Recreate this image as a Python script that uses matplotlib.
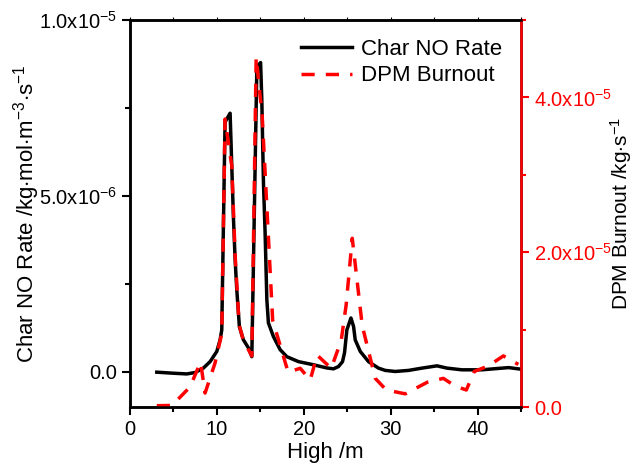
import math
import matplotlib
matplotlib.use("Agg")
import matplotlib.pyplot as plt
from matplotlib.ticker import MultipleLocator, FuncFormatter

plt.rcParams['font.family'] = ['Liberation Sans', 'DejaVu Sans']
plt.rcParams['mathtext.fontset'] = 'custom'
plt.rcParams['mathtext.rm'] = 'Liberation Sans'
plt.rcParams['mathtext.it'] = 'Liberation Sans:italic'
plt.rcParams['mathtext.bf'] = 'Liberation Sans:bold'

# Char NO Rate (left axis)
char_x = [3.08, 4.99, 6.53, 7.49, 8.44, 9.22, 9.99, 10.37, 10.56, 10.94, 11.52, 11.90,
          12.10, 12.29, 12.59, 13.05, 13.63, 14.02, 14.60, 15.03, 15.17, 15.36, 15.55,
          15.75, 15.93, 16.51, 17.28, 18.05, 19.39, 21.12, 22.66, 23.42, 24.0, 24.46,
          24.69, 24.96, 25.43, 25.73, 25.92, 26.5, 27.45, 28.6, 29.38, 30.53, 32.06,
          33.6, 35.33, 36.49, 38.2, 40.5, 42.82, 43.58, 44.93]
char_y = [-0.01, -0.04, -0.06, -0.02, 0.105, 0.29, 0.58, 0.91, 1.19, 7.10, 7.35, 4.40,
          3.18, 2.33, 1.28, 0.91, 0.68, 0.43, 8.67, 8.79, 7.73, 5.37, 3.95,
          2.05, 1.39, 1.00, 0.63, 0.43, 0.29, 0.20, 0.11, 0.085, 0.15, 0.29,
          0.54, 1.19, 1.53, 1.29, 0.91, 0.58, 0.29, 0.105, 0.04, 0.01, 0.04,
          0.105, 0.17, 0.105, 0.057, 0.057, 0.105, 0.12, 0.077]
char_y = [v * 1e-6 for v in char_y]

# DPM Burnout (right axis)
dpm_x = [3.08, 4.84, 6.91, 8.12, 8.64, 9.79, 10.56, 10.94, 11.41, 11.71, 12.10, 12.56,
         13.05, 14.02, 14.52, 15.03, 15.21, 16.42, 18.2, 19.59, 20.74, 21.54, 23.16,
         24.31, 24.88, 25.58, 26.73, 28.23, 29.49, 31.68, 34.22, 36.06, 37.44, 38.71,
         39.63, 41.24, 42.97, 44.70]
dpm_y = [0.017, 0.02, 0.26, 0.58, 0.18, 0.57, 0.95, 3.72, 3.34, 3.12, 1.96, 1.06,
         0.86, 0.66, 4.52, 3.96, 3.77, 1.12, 0.45, 0.50, 0.35, 0.67, 0.50,
         0.86, 1.32, 2.18, 1.05, 0.37, 0.22, 0.17, 0.32, 0.37, 0.27, 0.22,
         0.46, 0.53, 0.66, 0.55]
dpm_y = [v * 1e-5 for v in dpm_y]

left_ticks = [0.0, 5e-6, 1e-5]
right_ticks = [0.0, 2e-5, 4e-5]
x_ticks = [0, 10, 20, 30, 40]


def sci_fmt(v, pos=None):
    if v == 0:
        return "0.0"
    e = int(math.floor(math.log10(abs(v)) + 1e-9))
    m = v / 10 ** e
    return r"%.1fx10$^{%d}$" % (m, e)


fig = plt.figure(figsize=(6.33, 4.66), dpi=100)
ax = fig.add_axes([0.2054, 0.1266, 0.6176, 0.8305])
ax2 = ax.twinx()

l1, = ax.plot(char_x, char_y, color='black', lw=2.5, label='Char NO Rate', zorder=3)
l2, = ax2.plot(dpm_x, dpm_y, color='red', lw=2.5, ls=(0, (3.8, 3.2)), label='DPM Burnout')

ax.set_xlim(0, 45)
ax.set_ylim(-1e-6, 1e-5)
ax2.set_ylim(0, 5e-5)

ax.set_xticks(x_ticks)
ax.xaxis.set_minor_locator(MultipleLocator(5))
ax.set_yticks(left_ticks)
ax.yaxis.set_minor_locator(MultipleLocator(2.5e-6))
ax.yaxis.set_major_formatter(FuncFormatter(sci_fmt))
ax2.set_yticks(right_ticks)
ax2.yaxis.set_minor_locator(MultipleLocator(1e-5))
ax2.yaxis.set_major_formatter(FuncFormatter(sci_fmt))

for a in (ax, ax2):
    for s in a.spines.values():
        s.set_linewidth(1.8)
ax2.spines['right'].set_color('red')

ax.tick_params(axis='both', which='major', direction='out', length=6, width=1.5,
               labelsize=14.5)
ax.tick_params(axis='both', which='minor', direction='out', length=3.5, width=1.5)
ax.tick_params(axis='x', which='both', top=True, labeltop=False)
ax2.tick_params(axis='y', which='major', direction='out', length=6, width=1.5,
                labelsize=14.5, colors='red')
ax2.tick_params(axis='y', which='minor', direction='out', length=3.5, width=1.5,
                colors='red')
# top ticks are tiny in the reference
for tl in ax.xaxis.get_majorticklines()[1::2] + ax.xaxis.get_minorticklines()[1::2]:
    tl.set_markersize(2)
    tl.set_markeredgewidth(0.8)

ax.set_xlabel('High /m', fontsize=16, labelpad=2)
ax.set_ylabel(r'Char NO Rate /kg$\cdot$mol$\cdot$m$^{-3}$$\cdot$s$^{-1}$', fontsize=16)
ax.yaxis.set_label_coords(-0.225, 0.5)
ax2.set_ylabel(r'DPM Burnout /kg$\cdot$s$^{-1}$', fontsize=15, color='black')
ax2.yaxis.set_label_coords(1.222, 0.5)

leg = ax.legend([l1, l2], ['Char NO Rate', 'DPM Burnout'], loc='upper right',
                frameon=False, fontsize=16, handlelength=2.3, borderaxespad=0.55,
                labelspacing=0.25, handletextpad=0.4, borderpad=0.3)

fig.savefig('out.png', dpi=100)
